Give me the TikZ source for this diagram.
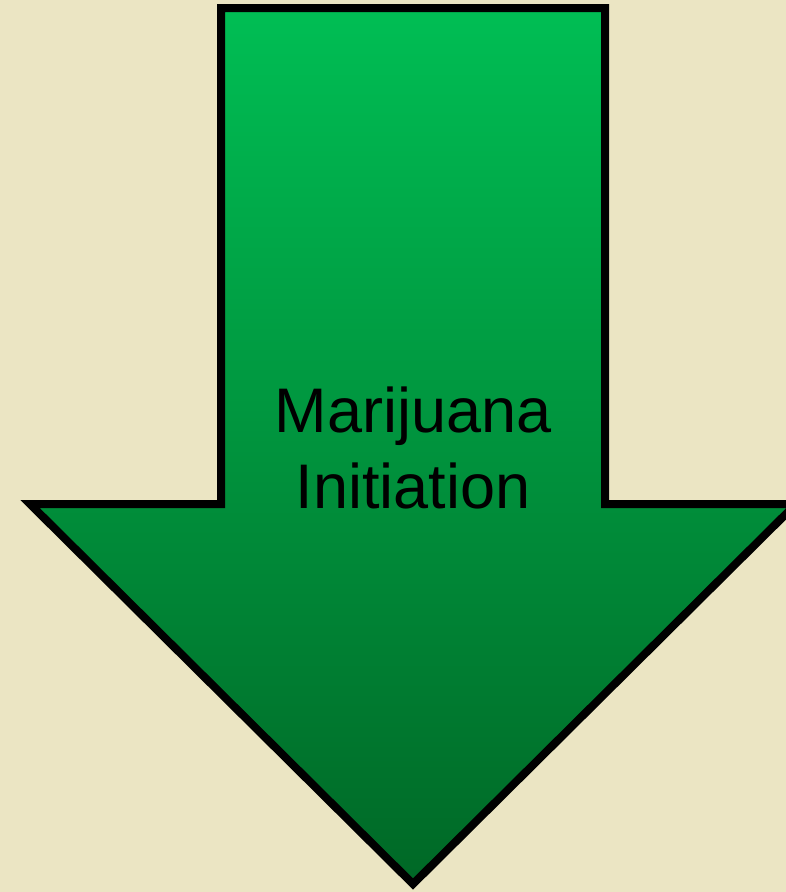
\documentclass[tikz,border=0pt]{standalone}
\usepackage{fontspec}
\setmainfont{Liberation Sans}
\usepackage{tikz}
\usetikzlibrary{positioning}
\definecolor{paper}{RGB}{235,229,195}
\definecolor{greentop}{RGB}{0,190,84}
\definecolor{greenbottom}{RGB}{0,104,38}

\begin{document}
\begin{tikzpicture}[
  x=1pt, y=-1pt,
  arrowbody/.style={draw=black, line width=8pt, miter limit=20,
                    top color=greentop, bottom color=greenbottom},
  label/.style={font=\fontsize{63}{76}\selectfont, text=black, align=center, inner sep=0pt}
]
% --- Background ---
\fill[paper] (0,0) rectangle (786,892);
\useasboundingbox (0,0) rectangle (786,892);
\clip (0,0) rectangle (786,892);

% --- Arrow ---
\coordinate (shaftTL) at (221,8);
\coordinate (shaftTR) at (605,8);
\coordinate (wingL) at (30,504);
\coordinate (wingR) at (796,504);
\coordinate (tip) at (413,884);
\draw[arrowbody] (shaftTL) -- (shaftTR) -- (605,504) -- (wingR) -- (tip)
  -- (wingL) -- (221,504) -- cycle;

% --- Label ---
\node[label, anchor=base] (init) at (413,508) {Marijuana\\Initiation};

\end{tikzpicture}
\end{document}
